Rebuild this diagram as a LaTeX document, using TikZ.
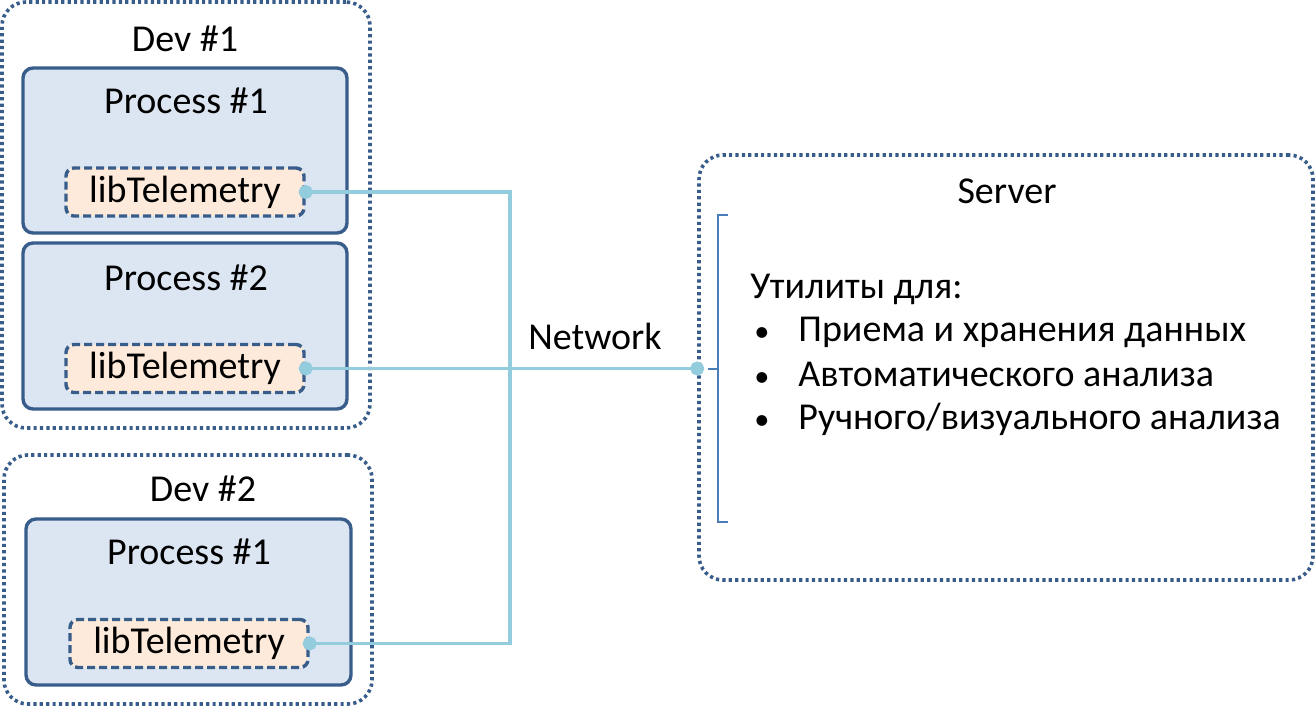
\documentclass[tikz,border=0pt]{standalone}
\usepackage{fontspec}
\setmainfont{Carlito}
\usetikzlibrary{positioning,arrows.meta}
\definecolor{boxline}{HTML}{385D8A}
\definecolor{procfill}{HTML}{DCE6F2}
\definecolor{libfill}{HTML}{FDEADA}
\definecolor{linkc}{HTML}{93CDDD}
\definecolor{brkc}{HTML}{4A7EBB}
\begin{document}
\begin{tikzpicture}[x=0.5pt,y=-0.5pt,font=\fontsize{19}{23}\selectfont]
		        \tikzstyle{dev}=[draw=boxline,line width=1.8pt,dash pattern=on 1.6pt off 1.6pt,rounded corners=12pt,inner sep=0pt]
		        \tikzstyle{proc}=[draw=boxline,fill=procfill,line width=1.7pt,rounded corners=5pt,inner sep=0pt]
		        \tikzstyle{lib}=[draw=boxline,fill=libfill,line width=1.7pt,dash pattern=on 4pt off 2pt,rounded corners=4pt,inner sep=0pt,minimum width=119pt,minimum height=24pt]
		        \tikzstyle{link}=[draw=linkc,line width=1.7pt,{Circle[length=7pt]}-{Circle[length=7pt]},shorten <=-3.5pt,shorten >=-3.5pt]
		        \tikzstyle{title}=[anchor=base,inner sep=0pt]
		        \useasboundingbox (0,0) rectangle (1316,706);
		    	\begin{scope}
			         % dev 1
			         \node [dev,minimum width=184pt,minimum height=213pt] (dev1) at (186,215) {};
			         \node [title] (dev1t) at (185,52) {Dev \#1};
			         \node [proc,minimum width=162pt,minimum height=82.5pt] (p11) at (185,150.5) {};
			         \node [title] (p11t) at (186,113) {Process \#1};
			         \node [lib] (lib1) at (185,192) {libTelemetry};
			         \node [proc,minimum width=162pt,minimum height=83pt] (p12) at (185,326) {};
			         \node [title] (p12t) at (186,290) {Process \#2};
			         \node [lib] (lib2) at (185,368.5) {libTelemetry};

			         % dev 2
			         \node [dev,minimum width=184pt,minimum height=124.5pt] (dev2) at (188,579.5) {};
			         \node [title] (dev2t) at (203,501) {Dev \#2};
			         \node [proc,minimum width=162.5pt,minimum height=83pt] (p21) at (188.5,602) {};
			         \node [title] (p21t) at (189,564) {Process \#1};
			         \node [lib] (lib3) at (189,643.5) {libTelemetry};

			         % server
			         \node [dev,minimum width=307pt,minimum height=212.5pt] (srv) at (1006,367.5) {};
			         \node [title] (srvt) at (1007,203) {Server};
			         \draw[brkc,line width=0.9pt] (728,215) -- (718,215) -- (718,522) -- (728,522);
			         \draw[brkc,line width=0.9pt] (708,369) -- (718,369);
			         \node [anchor=base west,inner sep=0pt] (util) at (750,298) {Утилиты для:};
			         \node [anchor=base,inner sep=0pt] (b1) at (762,341) {\scalebox{0.8}{•}};
			         \node [anchor=base west,inner sep=0pt] (i1) at (798,341) {Приема и хранения данных};
			         \node [anchor=base,inner sep=0pt] (b2) at (762,386) {\scalebox{0.8}{•}};
			         \node [anchor=base west,inner sep=0pt] (i2) at (798,386) {Автоматического анализа};
			         \node [anchor=base,inner sep=0pt] (b3) at (762,429) {\scalebox{0.8}{•}};
			         \node [anchor=base west,inner sep=0pt] (i3) at (798,429) {Ручного/визуального анализа};

			         % network
			         \coordinate (bus) at (510,400);
			         \coordinate (srvin) at (srv.west |- lib2.east);
			         \path[link] (lib1.east) -| (bus) |- (lib3.east);
			         \path[link] (lib2.east) -- (srvin);
			         \node [title] (net) at (595,349) {Network};
		         \end{scope}
\end{tikzpicture}
\end{document}
